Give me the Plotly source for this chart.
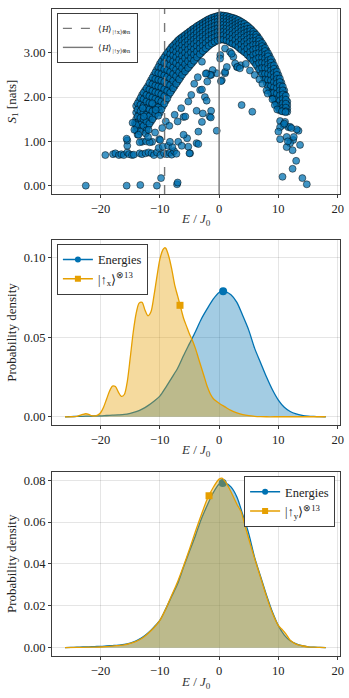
import plotly.graph_objects as go
from plotly.subplots import make_subplots

# ---------------- data: top panel (entanglement entropy vs energy) ----------------
arc_E = [-14.0, -13.5, -13.0, -12.5, -12.0, -11.5, -11.0, -10.5, -10.0, -9.5, -9.0, -8.5, -8.0, -7.5,
         -7.0, -6.5, -6.0, -5.5, -5.0, -4.5, -4.0, -3.5, -3.0, -2.5, -2.0, -1.5, -1.0, -0.5, 0.0,
         0.5, 1.0, 1.5, 2.0, 2.5, 3.0, 3.5, 4.0, 4.5, 5.0, 5.5, 6.0, 6.5, 7.0, 7.5, 8.0, 8.5, 9.0,
         9.5, 10.0, 10.5, 11.0, 11.5]
arc_S = [
    [1.8, 1.65, 1.5, 1.38, 1.25],
    [1.92, 1.78, 1.62, 1.48, 1.35],
    [2.05, 1.9, 1.75, 1.6, 1.45, 1.3],
    [2.15, 2.0, 1.85, 1.7, 1.55, 1.4],
    [2.25, 2.1, 1.95, 1.8, 1.65, 1.5, 1.35],
    [2.38, 2.22, 2.07, 1.92, 1.77, 1.62, 1.45],
    [2.5, 2.35, 2.2, 2.05, 1.9, 1.75, 1.55],
    [2.62, 2.48, 2.33, 2.18, 2.03, 1.88, 1.7],
    [2.75, 2.6, 2.45, 2.3, 2.15, 2.0, 1.85, 1.65],
    [2.85, 2.72, 2.58, 2.43, 2.28, 2.13, 1.98, 1.8],
    [2.95, 2.83, 2.7, 2.55, 2.4, 2.25, 2.1, 1.92],
    [3.04, 2.93, 2.8, 2.66, 2.52, 2.37, 2.22, 2.05],
    [3.13, 3.02, 2.9, 2.77, 2.63, 2.48, 2.33, 2.15],
    [3.2, 3.1, 2.98, 2.86, 2.72, 2.58, 2.43, 2.25],
    [3.27, 3.17, 3.06, 2.94, 2.81, 2.67, 2.52, 2.35],
    [3.33, 3.24, 3.13, 3.01, 2.88, 2.75, 2.6, 2.45],
    [3.38, 3.3, 3.2, 3.09, 2.97, 2.84, 2.7, 2.55],
    [3.43, 3.35, 3.26, 3.15, 3.04, 2.92, 2.78, 2.63],
    [3.48, 3.4, 3.31, 3.21, 3.1, 2.98, 2.85, 2.7],
    [3.53, 3.46, 3.37, 3.27, 3.17, 3.05, 2.92, 2.78],
    [3.57, 3.5, 3.42, 3.33, 3.23, 3.12, 3.0, 2.86],
    [3.62, 3.55, 3.47, 3.38, 3.29, 3.18, 3.06, 2.94],
    [3.66, 3.6, 3.52, 3.44, 3.35, 3.25, 3.13, 3.0],
    [3.7, 3.64, 3.57, 3.49, 3.4, 3.3, 3.19, 3.07],
    [3.74, 3.68, 3.61, 3.53, 3.45, 3.36, 3.25, 3.13],
    [3.77, 3.71, 3.64, 3.57, 3.49, 3.4, 3.3, 3.19],
    [3.8, 3.74, 3.67, 3.6, 3.52, 3.43, 3.34, 3.23],
    [3.82, 3.76, 3.7, 3.63, 3.55, 3.46, 3.37, 3.27],
    [3.84, 3.78, 3.71, 3.64, 3.56, 3.48, 3.39, 3.29],
    [3.84, 3.78, 3.72, 3.65, 3.57, 3.49, 3.4, 3.3],
    [3.83, 3.77, 3.71, 3.64, 3.56, 3.48, 3.39, 3.29],
    [3.82, 3.76, 3.7, 3.63, 3.55, 3.46, 3.37, 3.27],
    [3.8, 3.74, 3.68, 3.61, 3.53, 3.44, 3.34, 3.23],
    [3.78, 3.72, 3.65, 3.58, 3.5, 3.41, 3.31, 3.2],
    [3.75, 3.69, 3.62, 3.55, 3.46, 3.37, 3.27, 3.16],
    [3.72, 3.66, 3.59, 3.51, 3.42, 3.33, 3.22, 3.1],
    [3.68, 3.62, 3.55, 3.47, 3.38, 3.28, 3.17, 3.05],
    [3.63, 3.57, 3.5, 3.42, 3.33, 3.23, 3.12, 3.0],
    [3.58, 3.52, 3.45, 3.37, 3.28, 3.18, 3.06, 2.93],
    [3.52, 3.46, 3.39, 3.31, 3.22, 3.11, 2.99, 2.86],
    [3.45, 3.39, 3.32, 3.24, 3.14, 3.03, 2.91, 2.78],
    [3.37, 3.31, 3.24, 3.15, 3.05, 2.94, 2.82, 2.68],
    [3.27, 3.21, 3.14, 3.05, 2.95, 2.84, 2.72, 2.58],
    [3.17, 3.1, 3.02, 2.93, 2.83, 2.72, 2.6, 2.46],
    [3.05, 2.98, 2.9, 2.81, 2.71, 2.6, 2.47, 2.33],
    [2.93, 2.85, 2.77, 2.68, 2.57, 2.45, 2.32, 2.18],
    [2.8, 2.72, 2.63, 2.53, 2.42, 2.3, 2.17, 2.03],
    [2.65, 2.57, 2.48, 2.38, 2.27, 2.15, 2.02, 1.9],
    [2.5, 2.42, 2.33, 2.23, 2.12, 2.0, 1.88, 1.76],
    [2.33, 2.25, 2.16, 2.06, 1.95, 1.84, 1.73],
    [2.15, 2.06, 1.97, 1.87, 1.77, 1.68],
    [1.9, 1.82, 1.74, 1.67],
]

arc2_E = [-13.75, -13.25, -12.75, -12.25, -11.75, -11.25, -10.75, -10.25, -9.75, -9.25, -8.75,
          -8.25, -7.75, -7.25, -6.75, -6.25, -5.75, -5.25, -4.75, -4.25, -3.75, -3.25, -2.75,
          -2.25, -1.75, -1.25, -0.75, -0.25, 0.25, 0.75, 1.25, 1.75, 2.25, 2.75, 3.25, 3.75,
          4.25, 4.75, 5.25, 5.75, 6.25, 6.75, 7.25, 7.75, 8.25, 8.75, 9.25, 9.75, 10.25, 10.75,
          11.25]
arc2_S = [
    [1.86, 1.72, 1.56, 1.43, 1.3, 1.15],
    [1.98, 1.83, 1.68, 1.53, 1.38, 1.22],
    [2.1, 1.95, 1.8, 1.65, 1.5, 1.35],
    [2.2, 2.05, 1.9, 1.75, 1.6, 1.45, 1.25],
    [2.32, 2.17, 2.02, 1.87, 1.72, 1.57, 1.4],
    [2.44, 2.29, 2.14, 1.99, 1.84, 1.68, 1.5],
    [2.56, 2.41, 2.26, 2.11, 1.96, 1.8, 1.62],
    [2.68, 2.54, 2.39, 2.24, 2.09, 1.93, 1.77, 1.58],
    [2.8, 2.66, 2.52, 2.37, 2.22, 2.06, 1.9, 1.72],
    [2.9, 2.77, 2.63, 2.49, 2.34, 2.18, 2.02, 1.85],
    [3.0, 2.88, 2.75, 2.61, 2.46, 2.3, 2.14, 1.97],
    [3.08, 2.97, 2.85, 2.72, 2.57, 2.42, 2.27, 2.1],
    [3.16, 3.06, 2.94, 2.81, 2.67, 2.52, 2.37, 2.2],
    [3.23, 3.13, 3.02, 2.9, 2.77, 2.62, 2.47, 2.3],
    [3.3, 3.2, 3.09, 2.97, 2.84, 2.71, 2.56, 2.4],
    [3.35, 3.27, 3.17, 3.05, 2.93, 2.8, 2.65, 2.5],
    [3.4, 3.32, 3.23, 3.12, 3.0, 2.88, 2.74, 2.58],
    [3.45, 3.38, 3.28, 3.18, 3.07, 2.95, 2.81, 2.66],
    [3.5, 3.43, 3.34, 3.24, 3.13, 3.01, 2.88, 2.74],
    [3.55, 3.48, 3.39, 3.3, 3.2, 3.08, 2.96, 2.82],
    [3.6, 3.53, 3.45, 3.35, 3.26, 3.15, 3.03, 2.9],
    [3.64, 3.57, 3.5, 3.41, 3.32, 3.21, 3.1, 2.97],
    [3.68, 3.62, 3.55, 3.46, 3.37, 3.27, 3.16, 3.04],
    [3.72, 3.66, 3.59, 3.51, 3.42, 3.33, 3.22, 3.1],
    [3.76, 3.7, 3.63, 3.55, 3.47, 3.38, 3.28, 3.16],
    [3.79, 3.72, 3.66, 3.58, 3.5, 3.41, 3.32, 3.21],
    [3.81, 3.75, 3.69, 3.61, 3.53, 3.44, 3.35, 3.25],
    [3.83, 3.77, 3.7, 3.63, 3.55, 3.47, 3.38, 3.28],
    [3.85, 3.78, 3.72, 3.64, 3.56, 3.48, 3.39, 3.3],
    [3.84, 3.78, 3.71, 3.64, 3.56, 3.48, 3.4, 3.3],
    [3.83, 3.77, 3.7, 3.63, 3.55, 3.47, 3.38, 3.28],
    [3.81, 3.75, 3.69, 3.62, 3.54, 3.45, 3.35, 3.25],
    [3.79, 3.73, 3.66, 3.59, 3.51, 3.42, 3.32, 3.21],
    [3.77, 3.7, 3.63, 3.56, 3.48, 3.39, 3.29, 3.18],
    [3.74, 3.67, 3.6, 3.53, 3.44, 3.35, 3.24, 3.13],
    [3.7, 3.64, 3.57, 3.49, 3.4, 3.3, 3.19, 3.07],
    [3.66, 3.59, 3.52, 3.44, 3.35, 3.25, 3.14, 3.02],
    [3.61, 3.54, 3.47, 3.39, 3.3, 3.2, 3.09, 2.96],
    [3.55, 3.49, 3.42, 3.34, 3.25, 3.14, 3.02, 2.89],
    [3.48, 3.42, 3.35, 3.27, 3.18, 3.07, 2.95, 2.82],
    [3.41, 3.35, 3.28, 3.19, 3.09, 2.98, 2.86, 2.73],
    [3.32, 3.26, 3.19, 3.1, 3.0, 2.89, 2.77, 2.63],
    [3.22, 3.15, 3.08, 2.99, 2.89, 2.78, 2.66, 2.52],
    [3.11, 3.04, 2.96, 2.87, 2.77, 2.66, 2.53, 2.4],
    [2.99, 2.92, 2.83, 2.74, 2.64, 2.52, 2.39, 2.25],
    [2.86, 2.78, 2.7, 2.6, 2.5, 2.38, 2.25, 2.1],
    [2.72, 2.64, 2.55, 2.45, 2.34, 2.22, 2.1, 1.97],
    [2.58, 2.5, 2.41, 2.31, 2.2, 2.08, 1.95, 1.83],
    [2.42, 2.34, 2.25, 2.15, 2.04, 1.92, 1.8, 1.7],
    [2.24, 2.15, 2.06, 1.96, 1.86, 1.76, 1.68],
    [2.03, 1.94, 1.85, 1.76, 1.68],
]

sparse_E = [-22.5, -15.6, -13.3, -10.5, -9.8, -7.1, -7.0,
            -19.2, -17.9, -17.5, -16.9, -16.5, -16.1, -15.5, -15.2, -14.7, -14.4, -13.4, -13.0, -12.4,
            -11.9, -11.4, -11.0, -10.5, -9.9, -9.3, -8.8, -8.3, -8.0, -7.6, -7.2, -10.2, -9.5, -8.6,
            -7.9, -6.9, -5.4, -5.2, -4.9, -3.8, -3.5, -6.3, -6.0,
            -15.5, -15.5, -15.6, -14.2, -14.0, -14.3, -14.6, -13.0, -11.3, -12.4, -11.9, -10.1, -9.95,
            -8.3, -12.7, -11.3, -10.7, -13.4, -12.3, -11.7, -13.6, -12.9, -12.0, -10.8, -9.6, -9.0,
            -8.4, -7.5, -7.0, -6.4, -6.0, -5.7, -5.2, -4.7, -4.2, -3.8, -2.9, -2.75, -1.6, -1.35, -2.4,
            -2.1, -3.2, -0.4, -1.4, -3.5, -5.0, -2.9, -3.6, -2.0,
            1.0, -0.4, 1.0, 0.45, 1.3, 3.0, 2.4, -1.1, -1.35, -2.1, -2.9, 0.2, 1.0, 1.85, 3.65, 2.7,
            -1.5, -2.25, 0.17, 2.1, 3.1, 3.5, 0.3,
            3.8, 5.6, 4.5, 5.2, 6.0, 6.8, 7.3, 8.0, 8.2, 9.0, 9.4, 9.8, 10.6, 11.2,
            10.29, 11.13, 10.85, 11.7, 11.97, 10.29, 10.0, 11.4, 12.5, 11.97, 13.4, 13.1, 10.29, 11.4,
            13.66, 12.4, 13.0, 12.4, 10.7, 14.05, 14.8, 11.0, 12.2, 12.6, 11.6]
sparse_S = [0.0, 0.0, 0.015, 0.0, 0.17, 0.03, 0.07,
            0.69, 0.71, 0.73, 0.69, 0.71, 0.69, 0.75, 0.71, 0.69, 0.7, 0.73, 0.71, 0.73,
            0.75, 0.73, 0.69, 0.75, 0.69, 0.73, 0.71, 0.74, 0.7, 0.78, 0.72, 0.85, 0.88, 0.9,
            0.87, 0.99, 1.07, 0.88, 0.73, 0.96, 1.22, 0.9, 1.15,
            0.9, 1.02, 1.06, 1.41, 1.37, 1.26, 1.42, 0.99, 0.99, 1.18, 1.26, 1.05, 1.03,
            0.99, 1.56, 1.86, 1.71, 0.98, 1.0, 0.98, 1.15, 1.75, 1.1, 1.2, 1.3, 1.45,
            1.35, 1.6, 1.45, 1.75, 1.55, 1.56, 1.9, 2.05, 2.3, 1.69, 1.44, 1.63, 1.56, 1.69, 2.0,
            1.92, 2.16, 1.24, 1.54, 0.94, 0.73, 2.17, 2.45, 2.35,
            2.54, 2.54, 2.57, 2.38, 2.68, 2.68, 2.91, 2.61, 2.5, 2.54, 2.8, 2.95, 3.1, 3.02, 2.72, 2.76,
            2.5, 2.53, 2.87, 2.98, 2.68, 2.65, 2.36,
            1.82, 1.67, 2.75, 2.6, 2.5, 2.4, 2.3, 2.15, 2.08, 1.95, 1.82, 1.72, 1.68, 1.66,
            1.46, 1.44, 1.37, 1.32, 1.33, 1.32, 1.22, 1.1, 1.03, 0.96, 1.24, 1.27, 1.05, 0.87,
            0.92, 0.8, 0.56, 0.38, 0.2, 0.17, 0.03, 1.4, 1.3, 1.1, 1.0]

mean_energy_x = -9.2   # dashed line
mean_energy_y = 0.0    # solid line

# ---------------- data: energy densities ----------------
energies_x = [-26, -25, -24, -23, -22, -21, -20, -19, -18, -17, -16, -15, -14, -13, -12, -11, -10, -9,
              -8, -7, -6, -5, -4, -3, -2, -1, 0, 0.7, 1, 2, 3, 4, 5, 6, 7, 8, 9, 10, 11, 12, 13,
              14, 15, 16, 17, 18]
energies_d = [0, 0.0001, 0.0002, 0.0003, 0.0004, 0.0005, 0.0006, 0.0008, 0.001, 0.0012,
              0.0015, 0.0022, 0.0032, 0.0048, 0.007, 0.0098, 0.013, 0.0185, 0.0245, 0.0305,
              0.0385, 0.046, 0.0535, 0.0615, 0.068, 0.074, 0.0782, 0.0789, 0.0787, 0.0768,
              0.072, 0.0635, 0.0545, 0.043, 0.034, 0.025, 0.017, 0.0105, 0.006, 0.0033,
              0.0018, 0.0009, 0.0004, 0.0002, 0.0001, 0]

upx_x = [-26, -25, -24, -23, -22.5, -22, -21.5, -21, -20.5, -20, -19.5, -19, -18.5, -18, -17.5,
         -17, -16.5, -16, -15.5, -15, -14.5, -14, -13.5, -13, -12.5, -12, -11.5, -11, -10.5, -10,
         -9.5, -9.2, -9, -8.5, -8, -7.5, -7, -6.5, -6, -5.5, -5, -4.5, -4, -3.5, -3, -2.5, -2,
         -1.5, -1, 0, 1, 2, 3, 4, 5, 6, 7, 8, 10, 12, 14, 16, 18]
upx_d = [0, 0, 0.0003, 0.0015, 0.0019, 0.0015, 0.0007, 0.0005, 0.001, 0.0025, 0.006, 0.011,
         0.016, 0.0193, 0.019, 0.0155, 0.0128, 0.014, 0.022, 0.037, 0.053, 0.065, 0.0715, 0.072,
         0.067, 0.0635, 0.066, 0.076, 0.088, 0.099, 0.105, 0.1063, 0.106, 0.101, 0.093, 0.083,
         0.076, 0.069, 0.062, 0.057, 0.052, 0.048, 0.043, 0.037, 0.031, 0.025, 0.019, 0.0145,
         0.0115, 0.0085, 0.0062, 0.004, 0.0025, 0.0014, 0.0007, 0.0003, 0.0001, 0, 0, 0, 0, 0, 0]

upy_x = [-26, -24, -22, -20, -18, -17, -16, -15, -14, -13, -12, -11, -10, -9, -8, -7, -6, -5, -4,
         -3, -2, -1, 0, 0.5, 1, 2, 3, 3.7, 4.3, 5, 6, 7, 8, 9, 10, 10.7, 11.3, 12, 13, 14, 15,
         16, 17, 18]
upy_d = [0, 0.0001, 0.0002, 0.0003, 0.0007, 0.001, 0.0013, 0.002, 0.003, 0.0045, 0.0068, 0.0095,
         0.013, 0.0185, 0.025, 0.0315, 0.039, 0.047, 0.0555, 0.0635, 0.071, 0.0765, 0.0805,
         0.081, 0.0795, 0.0745, 0.0685, 0.065, 0.059, 0.052, 0.0425, 0.0335, 0.0245, 0.0165,
         0.0105, 0.0085, 0.0065, 0.0035, 0.0017, 0.0009, 0.0004, 0.0002, 0.0001, 0]

# marker points on the curves
mid_markers_energy = (0.68, 0.0789)
mid_markers_upx = (-6.6, 0.0701)
bot_markers_energy = (0.6, 0.0787)
bot_markers_upy = (-1.7, 0.0726)

# ---------------- styling ----------------
BLUE = "rgb(0,114,178)"
ORANGE = "rgb(230,159,0)"
BLUE_FILL = "rgba(0,114,178,0.36)"
ORANGE_FILL = "rgba(230,159,0,0.38)"
FONT = "Liberation Serif"
GRID = "rgba(0,0,0,0.10)"
FRAME = "rgb(60,60,60)"

fig = make_subplots(rows=3, cols=1)

# flatten top scatter
sc_E, sc_S = [], []
for Es, Ss in [(arc_E, arc_S), (arc2_E, arc2_S)]:
    for e, col in zip(Es, Ss):
        for s in col:
            sc_E.append(e)
            sc_S.append(s)
sc_E += sparse_E
sc_S += sparse_S

fig.add_trace(go.Scatter(x=sc_E, y=sc_S, mode="markers", showlegend=False,
                         marker=dict(size=7, color="rgba(0,114,178,0.75)",
                                     line=dict(color="rgba(0,0,0,0.8)", width=0.6))),
              row=1, col=1)

for xv, dash in [(mean_energy_x, "dash"), (mean_energy_y, "solid")]:
    fig.add_shape(type="line", xref="x", yref="y domain", x0=xv, x1=xv, y0=0, y1=1,
                  line=dict(color="rgb(120,120,120)", width=1.4, dash=dash))

fig.add_trace(go.Scatter(x=[None], y=[None], mode="lines", legend="legend",
                         name="⟨<i>H</i>⟩<sub>|↑x⟩⊗n</sub>",
                         line=dict(color="rgb(120,120,120)", width=1.4, dash="dash")), row=1, col=1)
fig.add_trace(go.Scatter(x=[None], y=[None], mode="lines", legend="legend",
                         name="⟨<i>H</i>⟩<sub>|↑y⟩⊗n</sub>",
                         line=dict(color="rgb(120,120,120)", width=1.4)), row=1, col=1)


def density_panel(row, bx, by, ox, oy, bm, om, leg, oname):
    fig.add_trace(go.Scatter(x=bx, y=by, mode="lines", fill="tozeroy", fillcolor=BLUE_FILL,
                             line=dict(color=BLUE, width=1.3, shape="spline", smoothing=0.8),
                             showlegend=False), row=row, col=1)
    fig.add_trace(go.Scatter(x=[bm[0]], y=[bm[1]], mode="markers", showlegend=False,
                             marker=dict(symbol="circle", size=8, color=BLUE)), row=row, col=1)
    fig.add_trace(go.Scatter(x=ox, y=oy, mode="lines", fill="tozeroy", fillcolor=ORANGE_FILL,
                             line=dict(color=ORANGE, width=1.3, shape="spline", smoothing=0.8),
                             showlegend=False), row=row, col=1)
    fig.add_trace(go.Scatter(x=[om[0]], y=[om[1]], mode="markers", showlegend=False,
                             marker=dict(symbol="square", size=7, color=ORANGE)), row=row, col=1)
    fig.add_trace(go.Scatter(x=[None], y=[None], mode="lines+markers", name="Energies",
                             legend=leg, line=dict(color=BLUE, width=1.5),
                             marker=dict(symbol="circle", size=6, color=BLUE)), row=row, col=1)
    fig.add_trace(go.Scatter(x=[None], y=[None], mode="lines+markers", name=oname,
                             legend=leg, line=dict(color=ORANGE, width=1.5),
                             marker=dict(symbol="square", size=6, color=ORANGE)), row=row, col=1)


density_panel(2, energies_x, energies_d, upx_x, upx_d, mid_markers_energy, mid_markers_upx,
              "legend2", "|↑<sub>x</sub>⟩<sup>⊗13</sup>")
density_panel(3, energies_x, energies_d, upy_x, upy_d, bot_markers_energy, bot_markers_upy,
              "legend3", "|↑<sub>y</sub>⟩<sup>⊗13</sup>")

axis_common = dict(showgrid=True, gridcolor=GRID, gridwidth=1, showline=True, linecolor=FRAME,
                   linewidth=1, mirror=True, ticks="outside", ticklen=3, tickcolor=FRAME,
                   zeroline=False, automargin=False,
                   tickfont=dict(family=FONT, size=12.5, color="#222"))

for r in (1, 2, 3):
    fig.update_xaxes(range=[-28.2, 20.4], tickvals=[-20, -10, 0, 10, 20],
                     row=r, col=1, **axis_common)

ytitle_font = dict(family=FONT, size=13, color="#222")
fig.update_yaxes(range=[-0.19, 3.99], tickvals=[0, 1, 2, 3], tickformat=".2f",
                 title=dict(text="<i>S</i><sub>1</sub> [nats]", font=ytitle_font, standoff=4),
                 row=1, col=1, **axis_common)
fig.update_yaxes(range=[-0.0052, 0.1112], tickvals=[0, 0.05, 0.1], tickformat=".2f",
                 title=dict(text="Probability density", font=ytitle_font, standoff=4),
                 row=2, col=1, **axis_common)
fig.update_yaxes(range=[-0.004, 0.0841], tickvals=[0, 0.02, 0.04, 0.06, 0.08], tickformat=".2f",
                 title=dict(text="Probability density", font=ytitle_font, standoff=4),
                 row=3, col=1, **axis_common)

# x-axis titles as annotations (placed under each panel)
xtitle = "<i>E</i> / <i>J</i><sub>0</sub>"
for ypos in (0.674, 0.317, -0.0417):
    fig.add_annotation(text=xtitle, xref="paper", yref="paper", x=0.5, y=ypos,
                       xanchor="center", yanchor="middle", showarrow=False,
                       font=dict(family=FONT, size=13, color="#333"))

fig.update_layout(
    width=349, height=698,
    margin=dict(l=52, r=9, t=9, b=42),
    paper_bgcolor="white", plot_bgcolor="white",
    font=dict(family=FONT, size=12, color="#222"),
    yaxis=dict(domain=[0.714, 1.0]),
    yaxis2=dict(domain=[0.357, 0.643]),
    yaxis3=dict(domain=[0.0, 0.285]),
    legend=dict(x=0.017, y=0.994, xanchor="left", yanchor="top", bgcolor="white",
                bordercolor=FRAME, borderwidth=1, font=dict(family=FONT, size=9),
                tracegroupgap=0, itemwidth=30),
    legend2=dict(x=0.017, y=0.637, xanchor="left", yanchor="top", bgcolor="white",
                 bordercolor=FRAME, borderwidth=1, font=dict(family=FONT, size=12.5),
                 tracegroupgap=0, itemwidth=30),
    legend3=dict(x=0.983, y=0.278, xanchor="right", yanchor="top", bgcolor="white",
                 bordercolor=FRAME, borderwidth=1, font=dict(family=FONT, size=12.5),
                 tracegroupgap=0, itemwidth=30),
)

fig.write_html("out.html", config={"displayModeBar": False},
               post_script="document.body.style.margin='0px';document.body.style.padding='0px';")
